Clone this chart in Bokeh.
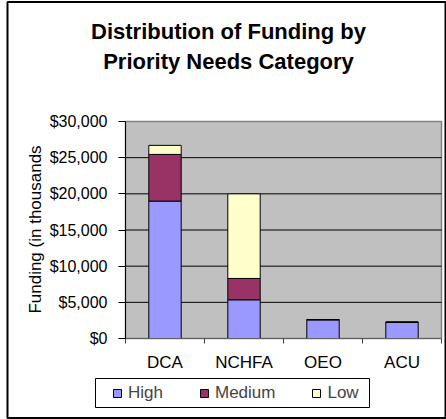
import math
from bokeh.plotting import figure
from bokeh.models import (ColumnDataSource, Range1d, FixedTicker, NumeralTickFormatter,
                          Legend, LegendItem, Label, BoxAnnotation)
from bokeh.embed import file_html
from bokeh.resources import INLINE

categories = ["DCA", "NCHFA", "OEO", "ACU"]
high = [19000, 5350, 2600, 2250]
medium = [6450, 2950, 0, 0]
low = [1250, 11700, 0, 0]
series = ["High", "Medium", "Low"]
colors = ["#9999FF", "#993366", "#FFFFCC"]
y_ticks = [0, 5000, 10000, 15000, 20000, 25000, 30000]
title_lines = ["Distribution of Funding by", "Priority Needs Category"]
y_label = "Funding (in thousands"

FONT = "Liberation Sans"
W, H = 446, 419
# pixel box of the grey plot area inside the chart
PL, PR, PT, PB = 125, 441, 121, 338

n = len(categories)
y_max = y_ticks[-1]
xu = n / (PR - PL)
yu = y_max / (PB - PT)
x_range = Range1d(-PL * xu, n + (W - PR) * xu)
y_range = Range1d(-(H - PB) * yu, y_max + PT * yu)

x_pos = [i + 0.5 for i in range(n)]
source = ColumnDataSource(dict(x=x_pos, High=high, Medium=medium, Low=low))

p = figure(width=W, height=H, output_backend="svg", toolbar_location=None,
           x_range=x_range, y_range=y_range, min_border=0)
p.title.visible = False
p.background_fill_color = "white"
p.border_fill_color = "white"
p.outline_line_color = None
p.xgrid.visible = False
p.ygrid.visible = False

# grey plot area
p.quad(left=0, right=n, bottom=0, top=y_max, fill_color="#C0C0C0",
       line_color="#808080", line_width=1.5)
# horizontal gridlines
p.segment(x0=0, x1=n, y0=y_ticks[1:-1], y1=y_ticks[1:-1], line_color="black", line_width=1)

renderers = p.vbar_stack(series, x="x", width=0.41, color=colors, line_color="black",
                         line_width=1, source=source)

# y axis
yax = p.yaxis[0]
yax.fixed_location = 0
yax.bounds = (0, y_max)
yax.ticker = FixedTicker(ticks=y_ticks, minor_ticks=[])
yax.formatter = NumeralTickFormatter(format="$0,0")
yax.major_tick_out = 7
yax.major_tick_in = 0
yax.minor_tick_out = 0
yax.minor_tick_in = 0
yax.major_label_standoff = 11
yax.axis_line_color = "black"
yax.major_tick_line_color = "black"
yax.major_label_text_font = FONT
yax.major_label_text_font_size = "16px"
yax.major_label_text_color = "black"

# x axis: labels at category centres, ticks between categories
xax = p.xaxis[0]
xax.fixed_location = 0
xax.bounds = (0, n)
xax.ticker = FixedTicker(ticks=x_pos, minor_ticks=list(range(n + 1)))
xax.major_label_overrides = {x: c for x, c in zip(x_pos, categories)}
xax.major_tick_out = 0
xax.major_tick_in = 0
xax.minor_tick_out = 5
xax.minor_tick_in = 0
xax.minor_tick_line_color = "#404040"
xax.axis_line_color = "#606060"
xax.major_label_standoff = 9
xax.major_label_text_font = FONT
xax.major_label_text_font_size = "17px"
xax.major_label_text_color = "black"

# outer chart border
p.add_layout(BoxAnnotation(left=7, right=445, bottom=1.5, top=H - 1.5,
                           left_units="screen", right_units="screen",
                           top_units="screen", bottom_units="screen",
                           fill_alpha=0, line_color="black", line_alpha=1, line_width=2))

# legend box
p.add_layout(BoxAnnotation(left=95, right=369, bottom=H - 407, top=H - 378,
                           left_units="screen", right_units="screen",
                           top_units="screen", bottom_units="screen",
                           fill_color="white", fill_alpha=1, line_color="black",
                           line_alpha=1, line_width=1))

legend = Legend(items=[LegendItem(label=s, renderers=[r]) for s, r in zip(series, renderers)],
                orientation="horizontal", location=(108, 12),
                padding=4, spacing=36, label_standoff=6, glyph_width=10, glyph_height=10,
                border_line_alpha=0, background_fill_alpha=0,
                label_text_font=FONT, label_text_font_size="17px", margin=0)
p.add_layout(legend, "center")

# title
for i, t in enumerate(title_lines):
    p.add_layout(Label(x=228, y=H - 31 - 30 * i, x_units="screen", y_units="screen", text=t,
                       text_align="center", text_baseline="alphabetic",
                       text_font=FONT, text_font_size="22px", text_font_style="bold",
                       text_color="black"))

# y axis title
p.add_layout(Label(x=35, y=H - 229, x_units="screen", y_units="screen", text=y_label,
                   angle=math.pi / 2, text_align="center", text_baseline="middle",
                   text_font=FONT, text_font_size="17px", text_color="black"))

open("out.html", "w").write(file_html(p, INLINE))
